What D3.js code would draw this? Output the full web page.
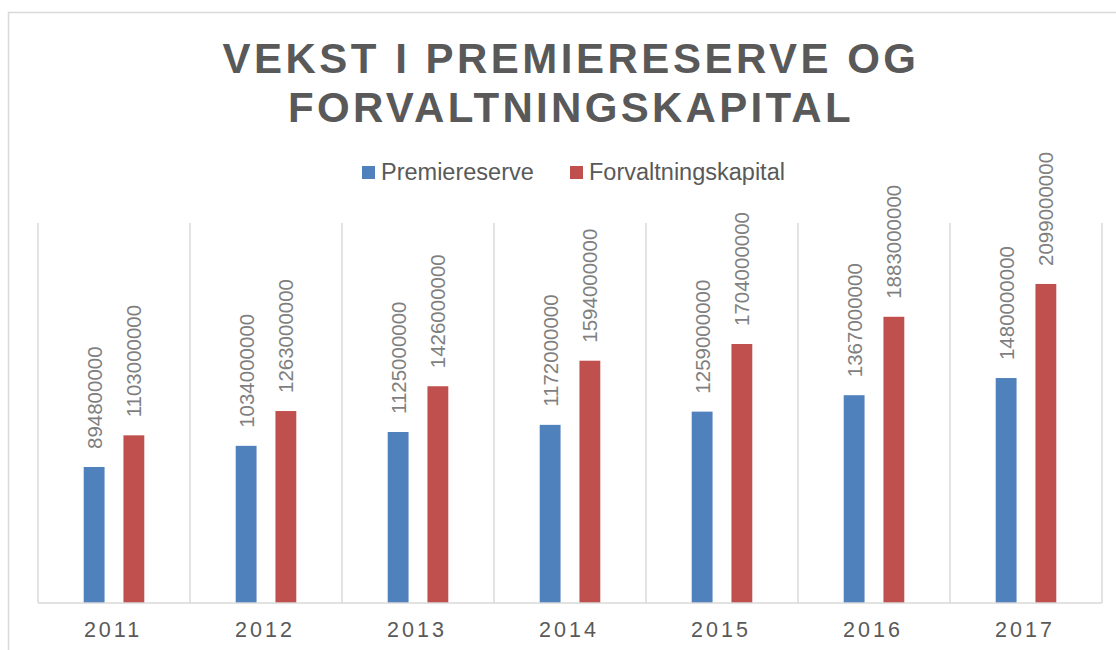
<!DOCTYPE html>
<html lang="no">
<head>
<meta charset="UTF-8"/>
<title>Vekst i premiereserve og forvaltningskapital</title>
<script src="https://d3js.org/d3.v7.min.js"></script>
<style>
  body { margin: 0; background: #fff; }
  svg { display: block; font-family: "Liberation Sans", Arial, sans-serif; }
</style>
</head>
<body>
<script>
var years = ["2011", "2012", "2013", "2014", "2015", "2016", "2017"];
var premiereserve = [894800000, 1034000000, 1125000000, 1172000000, 1259000000, 1367000000, 1480000000];
var forvaltningskapital = [1103000000, 1263000000, 1426000000, 1594000000, 1704000000, 1883000000, 2099000000];
var seriesNames = ["Premiereserve", "Forvaltningskapital"];
var colors = ["#4F81BD", "#C0504D"];

var w = 1116, h = 650;
var plotLeft = 38, plotRight = 1102, plotTop = 223, plotBottom = 603;

var svg = d3.select("body").append("svg")
    .attr("width", w)
    .attr("height", h);

// chart frame
svg.append("rect")
    .attr("x", 8.5).attr("y", 12.5)
    .attr("width", w + 20).attr("height", h + 20)
    .attr("fill", "none")
    .attr("stroke", "#d9d9d9")
    .attr("stroke-width", 1.5);

var xScale = d3.scaleBand()
    .domain(years)
    .range([plotLeft, plotRight]);

var xSub = d3.scaleBand()
    .domain([0, 1])
    .range([0, xScale.bandwidth()])
    .paddingInner(0.475)
    .paddingOuter(1.15);

var yScale = d3.scaleLinear()
    .domain([0, 2500000000])
    .range([plotBottom, plotTop]);

// vertical gridlines between categories
var bounds = years.map(function(d) { return xScale(d); }).concat([plotRight]);
svg.selectAll("line.grid")
    .data(bounds)
    .enter()
    .append("line")
    .attr("class", "grid")
    .attr("x1", function(d) { return d; })
    .attr("x2", function(d) { return d; })
    .attr("y1", plotTop)
    .attr("y2", plotBottom)
    .attr("stroke", "#d9d9d9")
    .attr("stroke-width", 1.5);

// bars
var rows = years.map(function(y, i) {
    return { year: y, values: [premiereserve[i], forvaltningskapital[i]] };
});

var groups = svg.selectAll("g.year")
    .data(rows)
    .enter()
    .append("g")
    .attr("class", "year")
    .attr("transform", function(d) { return "translate(" + xScale(d.year) + ",0)"; });

groups.selectAll("rect")
    .data(function(d) { return d.values; })
    .enter()
    .append("rect")
    .attr("x", function(d, i) { return xSub(i); })
    .attr("y", function(d) { return yScale(d); })
    .attr("width", xSub.bandwidth())
    .attr("height", function(d) { return plotBottom - yScale(d); })
    .attr("fill", function(d, i) { return colors[i]; });

// rotated value labels
groups.selectAll("text")
    .data(function(d) { return d.values; })
    .enter()
    .append("text")
    .text(function(d) { return d; })
    .attr("transform", function(d, i) {
        return "translate(" + (xSub(i) + xSub.bandwidth() / 2) + "," + (yScale(d) - 18) + ") rotate(-90)";
    })
    .attr("dominant-baseline", "central")
    .attr("font-size", "20.5px")
    .attr("fill", "#7f7f7f");

// baseline axis
svg.append("line")
    .attr("x1", plotLeft).attr("x2", plotRight)
    .attr("y1", plotBottom).attr("y2", plotBottom)
    .attr("stroke", "#d9d9d9")
    .attr("stroke-width", 1.5);

// x labels
svg.selectAll("text.xlab")
    .data(years)
    .enter()
    .append("text")
    .attr("class", "xlab")
    .text(function(d) { return d; })
    .attr("x", function(d) { return xScale(d) + xScale.bandwidth() / 2 - 1; })
    .attr("y", 637)
    .attr("text-anchor", "middle")
    .attr("font-size", "21.5px")
    .attr("letter-spacing", "3px")
    .attr("fill", "#595959");

// title
var titleLines = ["VEKST I PREMIERESERVE OG", "FORVALTNINGSKAPITAL"];
svg.selectAll("text.title")
    .data(titleLines)
    .enter()
    .append("text")
    .attr("class", "title")
    .text(function(d) { return d; })
    .attr("x", 571)
    .attr("y", function(d, i) { return 73 + i * 49; })
    .attr("text-anchor", "middle")
    .attr("font-size", "42px")
    .attr("font-weight", "bold")
    .attr("letter-spacing", function(d, i) { return i === 0 ? "3.5px" : "3.3px"; })
    .attr("fill", "#595959");

// legend
var legendX = [362, 570];
var legend = svg.selectAll("g.legend")
    .data(seriesNames)
    .enter()
    .append("g")
    .attr("class", "legend")
    .attr("transform", function(d, i) { return "translate(" + legendX[i] + ",166)"; });

legend.append("rect")
    .attr("width", 13)
    .attr("height", 13)
    .attr("fill", function(d, i) { return colors[i]; });

legend.append("text")
    .text(function(d) { return d; })
    .attr("x", 19)
    .attr("y", 13.5)
    .attr("font-size", "23.5px")
    .attr("fill", "#595959");
</script>
</body>
</html>
